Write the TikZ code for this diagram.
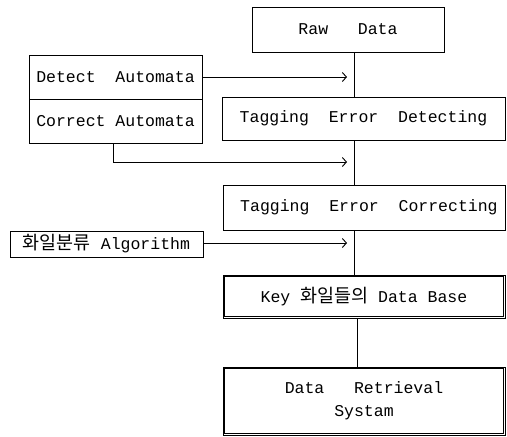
\documentclass[tikz,border=0pt]{standalone}
\usepackage{fontspec}
\setmonofont{Liberation Mono}
\newfontfamily\kr[Scale=1.12]{Noto Sans CJK KR}
\usetikzlibrary{arrows.meta,calc}
\begin{document}
\begin{tikzpicture}[x=1pt,y=-1pt,
  every node/.style={font=\ttfamily\fontsize{16.5}{23}\selectfont},
  blk/.style={draw,line width=0.9pt,inner sep=0pt,align=center},
  inner/.style={line width=0.7pt},
  conn/.style={line width=0.9pt},
  feed/.style={line width=0.9pt,-{Straight Barb[length=4pt,width=9pt,line width=0.9pt]}}]
\useasboundingbox (0,0) rectangle (507,437);
\node[blk,minimum width=192pt,minimum height=45pt] (raw) at (348,29.5) {Raw~~~Data};
\node[blk,minimum width=173pt,minimum height=44pt] (det) at (115.5,77) {Detect~~Automata};
\node[blk,minimum width=173pt,minimum height=44pt] (cor) at (115.5,121) {Correct~Automata};
\node[blk,minimum width=283pt,minimum height=43pt] (ted) at (363.5,118.5) {Tagging~~Error~~Detecting};
\node[blk,minimum width=282pt,minimum height=45pt] (tec) at (364,207.5) {~Tagging~~Error~~Correcting};
\node[blk,minimum width=193pt,minimum height=26pt] (alg) at (106.5,244) {{\kr 화일분류}~Algorithm};
\node[blk,minimum width=282pt,minimum height=43pt] (key) at (364,296.5) {Key~{\kr 화일들의}~Data~Base};
\node[blk,minimum width=282pt,minimum height=68pt] (drs) at (364,401) {Data~~~Retrieval\\Systam};
\draw[inner] ($(key.north west)+(2,2)$) rectangle ($(key.south east)+(-2,-2)$);
\draw[inner] ($(drs.north west)+(2,2)$) rectangle ($(drs.south east)+(-2,-2)$);
% spine connectors
\coordinate (s1) at (354,0);
\coordinate (s2) at (357,0);
\draw[conn] (raw.south -| s1) -- (ted.north -| s1);
\draw[conn] (ted.south -| s1) -- (tec.north -| s1);
\draw[conn] (tec.south -| s1) -- (key.north -| s1);
\draw[conn] (key.south -| s2) -- (drs.north -| s2);
% feed arrows
\coordinate (t1) at (347,77);
\coordinate (c0) at (113,0);
\coordinate (t2) at (347,162);
\coordinate (t3) at (347,243);
\draw[feed] (det.east) -- (t1);
\draw[feed] (cor.south -| c0) |- (t2);
\draw[feed] (alg.east |- t3) -- (t3);
\end{tikzpicture}
\end{document}
